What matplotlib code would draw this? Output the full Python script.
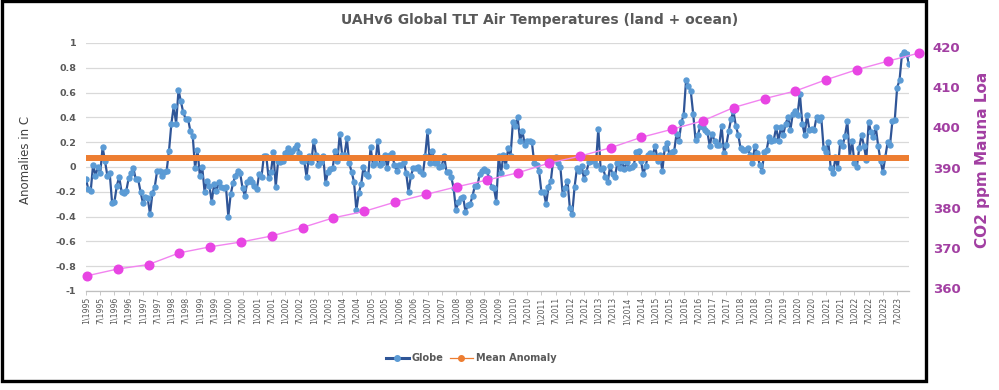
import numpy as np
import matplotlib
matplotlib.use("Agg")
import matplotlib.pyplot as plt
from matplotlib.lines import Line2D
from matplotlib.patches import Rectangle

# UAHv6 global TLT monthly anomalies (deg C), Jan 1995 .. Dec 2023
years = list(range(1995, 2024))
globe = [
    -0.10, -0.18, -0.19, 0.02, -0.07, 0.00, -0.05, 0.16, 0.05, -0.07, -0.05, -0.29,   # 1995
    -0.28, -0.15, -0.08, -0.20, -0.21, -0.19, -0.09, -0.05, -0.01, -0.10, -0.10, -0.20,  # 1996
    -0.29, -0.24, -0.25, -0.38, -0.21, -0.16, -0.03, -0.03, -0.07, -0.04, -0.03, 0.13,  # 1997
    0.35, 0.49, 0.35, 0.62, 0.53, 0.44, 0.39, 0.39, 0.29, 0.25, -0.01, 0.14,           # 1998
    -0.07, 0.00, -0.20, -0.11, -0.15, -0.28, -0.14, -0.19, -0.12, -0.16, -0.17, -0.16,  # 1999
    -0.40, -0.22, -0.13, -0.07, -0.03, -0.05, -0.17, -0.23, -0.12, -0.10, -0.12, -0.15,  # 2000
    -0.18, -0.06, -0.08, 0.09, 0.09, -0.09, -0.04, 0.12, -0.16, 0.05, 0.04, 0.05,      # 2001
    0.11, 0.15, 0.11, 0.13, 0.15, 0.18, 0.11, 0.05, 0.05, -0.08, 0.09, 0.04,           # 2002
    0.21, 0.10, 0.02, 0.04, 0.09, -0.13, -0.04, -0.02, -0.01, 0.13, 0.05, 0.27,        # 2003
    0.10, 0.10, 0.23, 0.03, -0.04, -0.12, -0.35, -0.21, -0.14, 0.00, -0.06, -0.07,     # 2004
    0.16, 0.02, 0.03, 0.21, 0.02, 0.03, 0.10, -0.01, 0.10, 0.11, 0.02, -0.03,          # 2005
    0.02, 0.02, 0.04, -0.05, -0.20, -0.07, -0.01, -0.01, 0.00, -0.03, -0.06, 0.09,     # 2006
    0.29, 0.03, 0.13, 0.03, 0.04, 0.00, 0.01, 0.09, -0.04, -0.04, -0.08, -0.17,        # 2007
    -0.35, -0.28, -0.25, -0.24, -0.36, -0.31, -0.30, -0.23, -0.15, -0.15, -0.06, -0.03,  # 2008
    -0.02, -0.03, -0.09, -0.16, -0.17, -0.28, 0.09, -0.05, 0.10, 0.01, 0.15, 0.09,     # 2009
    0.36, 0.33, 0.40, 0.21, 0.29, 0.18, 0.21, 0.21, 0.20, 0.03, 0.02, -0.03,           # 2010
    -0.20, -0.20, -0.30, -0.16, -0.11, 0.06, 0.08, 0.03, 0.00, -0.22, -0.17, -0.11,    # 2011
    -0.33, -0.38, -0.16, -0.01, -0.03, 0.01, -0.10, -0.04, 0.04, 0.05, 0.05, 0.02,     # 2012
    0.31, -0.02, -0.01, -0.08, -0.12, 0.01, -0.06, -0.08, 0.03, -0.01, 0.05, -0.02,    # 2013
    0.04, -0.01, 0.00, 0.02, 0.12, 0.13, 0.05, -0.06, 0.01, 0.10, 0.11, 0.10,          # 2014
    0.17, 0.05, 0.10, -0.03, 0.15, 0.19, 0.10, 0.12, 0.13, 0.27, 0.21, 0.36,           # 2015
    0.42, 0.70, 0.65, 0.61, 0.43, 0.22, 0.26, 0.33, 0.32, 0.30, 0.28, 0.17,            # 2016
    0.27, 0.21, 0.18, 0.18, 0.33, 0.11, 0.18, 0.29, 0.39, 0.45, 0.33, 0.26,            # 2017
    0.15, 0.14, 0.14, 0.15, 0.10, 0.03, 0.17, 0.11, 0.02, -0.03, 0.12, 0.14,           # 2018
    0.24, 0.21, 0.22, 0.32, 0.21, 0.32, 0.26, 0.35, 0.40, 0.30, 0.43, 0.45,            # 2019
    0.42, 0.59, 0.35, 0.26, 0.42, 0.30, 0.31, 0.30, 0.40, 0.38, 0.40, 0.15,            # 2020
    0.12, 0.20, -0.01, -0.05, 0.08, -0.01, 0.20, 0.17, 0.25, 0.37, 0.08, 0.21,         # 2021
    0.03, 0.00, 0.15, 0.26, 0.17, 0.06, 0.36, 0.28, 0.24, 0.32, 0.17, 0.05,            # 2022
    -0.04, 0.08, 0.20, 0.18, 0.37, 0.38, 0.64, 0.70, 0.90, 0.93, 0.91, 0.83,           # 2023
]

# Mauna Loa CO2 (ppm), one point per year as drawn on the secondary axis
co2_ppm = [363.1, 364.8, 365.9, 368.8, 370.3, 371.5, 373.0, 375.1, 377.5, 379.1,
           381.4, 383.3, 385.2, 386.9, 388.7, 391.1, 392.8, 394.9, 397.5, 399.5,
           401.6, 404.9, 407.1, 409.0, 411.8, 414.3, 416.4, 418.4]

anomaly_ticks = [-1, -0.8, -0.6, -0.4, -0.2, 0, 0.2, 0.4, 0.6, 0.8, 1]
co2_ticks = [360, 370, 380, 390, 400, 410, 420]
tick_labels = [f"{m}\\{y}" for y in years for m in (1, 7)]

assert len(globe) == 12 * len(years)

GRAY = "#595959"
PURPLE = "#A23FA2"
W, H = 999, 390

fig = plt.figure(figsize=(W / 100, H / 100), dpi=100)
fig.patch.set_facecolor("white")

rect = [86 / W, 1 - 291 / H, 823 / W, 248 / H]
ax = fig.add_axes(rect)

months = np.arange(len(globe))
mean_anomaly = float(np.mean(globe))
print("mean anomaly", mean_anomaly)

ax.plot(months, globe, color="#2F5597", lw=1.6, marker="o", ms=3.6,
        mfc="#5B9BD5", mec="#5B9BD5", zorder=3)
ax.plot(months, np.full(len(globe), mean_anomaly), color="#ED7D31", lw=4.3,
        solid_capstyle="round", zorder=4)

ax.set_xlim(0, len(globe) - 1)
ax.set_ylim(-1, 1)
ax.set_yticks(anomaly_ticks)
ax.set_yticklabels([f"{v:g}" for v in anomaly_ticks])
ax.set_xticks(months[::6])
ax.set_xticklabels(tick_labels, rotation=90, fontsize=5.6, color=GRAY)
ax.tick_params(axis="x", length=3, width=0.6, color="#BFBFBF", pad=1.5)
ax.tick_params(axis="y", length=0, pad=7, labelsize=6.8, labelcolor=GRAY)
for lbl in ax.get_yticklabels():
    lbl.set_fontweight("bold")
ax.grid(axis="y", color="#D9D9D9", lw=0.9)
ax.set_axisbelow(True)
for s in ("top", "left", "right"):
    ax.spines[s].set_visible(False)
ax.spines["bottom"].set_color("#BFBFBF")
ax.spines["bottom"].set_linewidth(0.9)

# secondary axis for CO2 with its own category positions
ax2 = fig.add_axes(rect, frameon=False)
ax2.plot(np.arange(len(co2_ppm)), co2_ppm, color="#F284F0", lw=1.0, marker="o",
         ms=6.2, mfc="#E845E3", mec="#E845E3", clip_on=False, zorder=5)
ax2.set_xlim(-0.03, 26.69)
ax2.set_ylim(359.33, 420.92)
ax2.xaxis.set_visible(False)
ax2.yaxis.tick_right()
ax2.set_yticks(co2_ticks)
ax2.tick_params(axis="y", length=0, pad=17, labelsize=9.5, labelcolor=PURPLE)
for lbl in ax2.get_yticklabels():
    lbl.set_fontweight("bold")

fig.text(540 / W, 1 - 20 / H, "UAHv6 Global TLT Air Temperatures (land + ocean)",
         ha="center", va="center", fontsize=10, fontweight="bold", color=GRAY)
fig.text(26 / W, 1 - 160 / H, "Anomalies in C", rotation=90, ha="center",
         va="center", fontsize=8.5, color="#404040")
fig.text(982 / W, 1 - 160 / H, "CO2 ppm Mauna Loa", rotation=90, ha="center",
         va="center", fontsize=11, fontweight="bold", color=PURPLE)

handles = [
    Line2D([], [], color="#2F5597", lw=2.2, marker="o", ms=4, mfc="#5B9BD5", mec="#5B9BD5"),
    Line2D([], [], color="#ED7D31", lw=0.9, marker="o", ms=4, mfc="#ED7D31", mec="#ED7D31"),
]
leg = fig.legend(handles, ["Globe", "Mean Anomaly"], loc="center",
                 bbox_to_anchor=(471 / W, 1 - 358 / H), ncol=2, frameon=False,
                 handlelength=2.4, handletextpad=0.3, columnspacing=0.6,
                 prop={"size": 7, "weight": "bold"})
for t in leg.get_texts():
    t.set_color(GRAY)

# chart border (the CO2 axis labels sit outside it)
fig.add_artist(Rectangle((1.5 / W, 1 - 380.5 / H), 924.8 / W, 379.2 / H,
                         transform=fig.transFigure, fill=False, ec="black", lw=2.4))

fig.savefig("out.png", dpi=100)
